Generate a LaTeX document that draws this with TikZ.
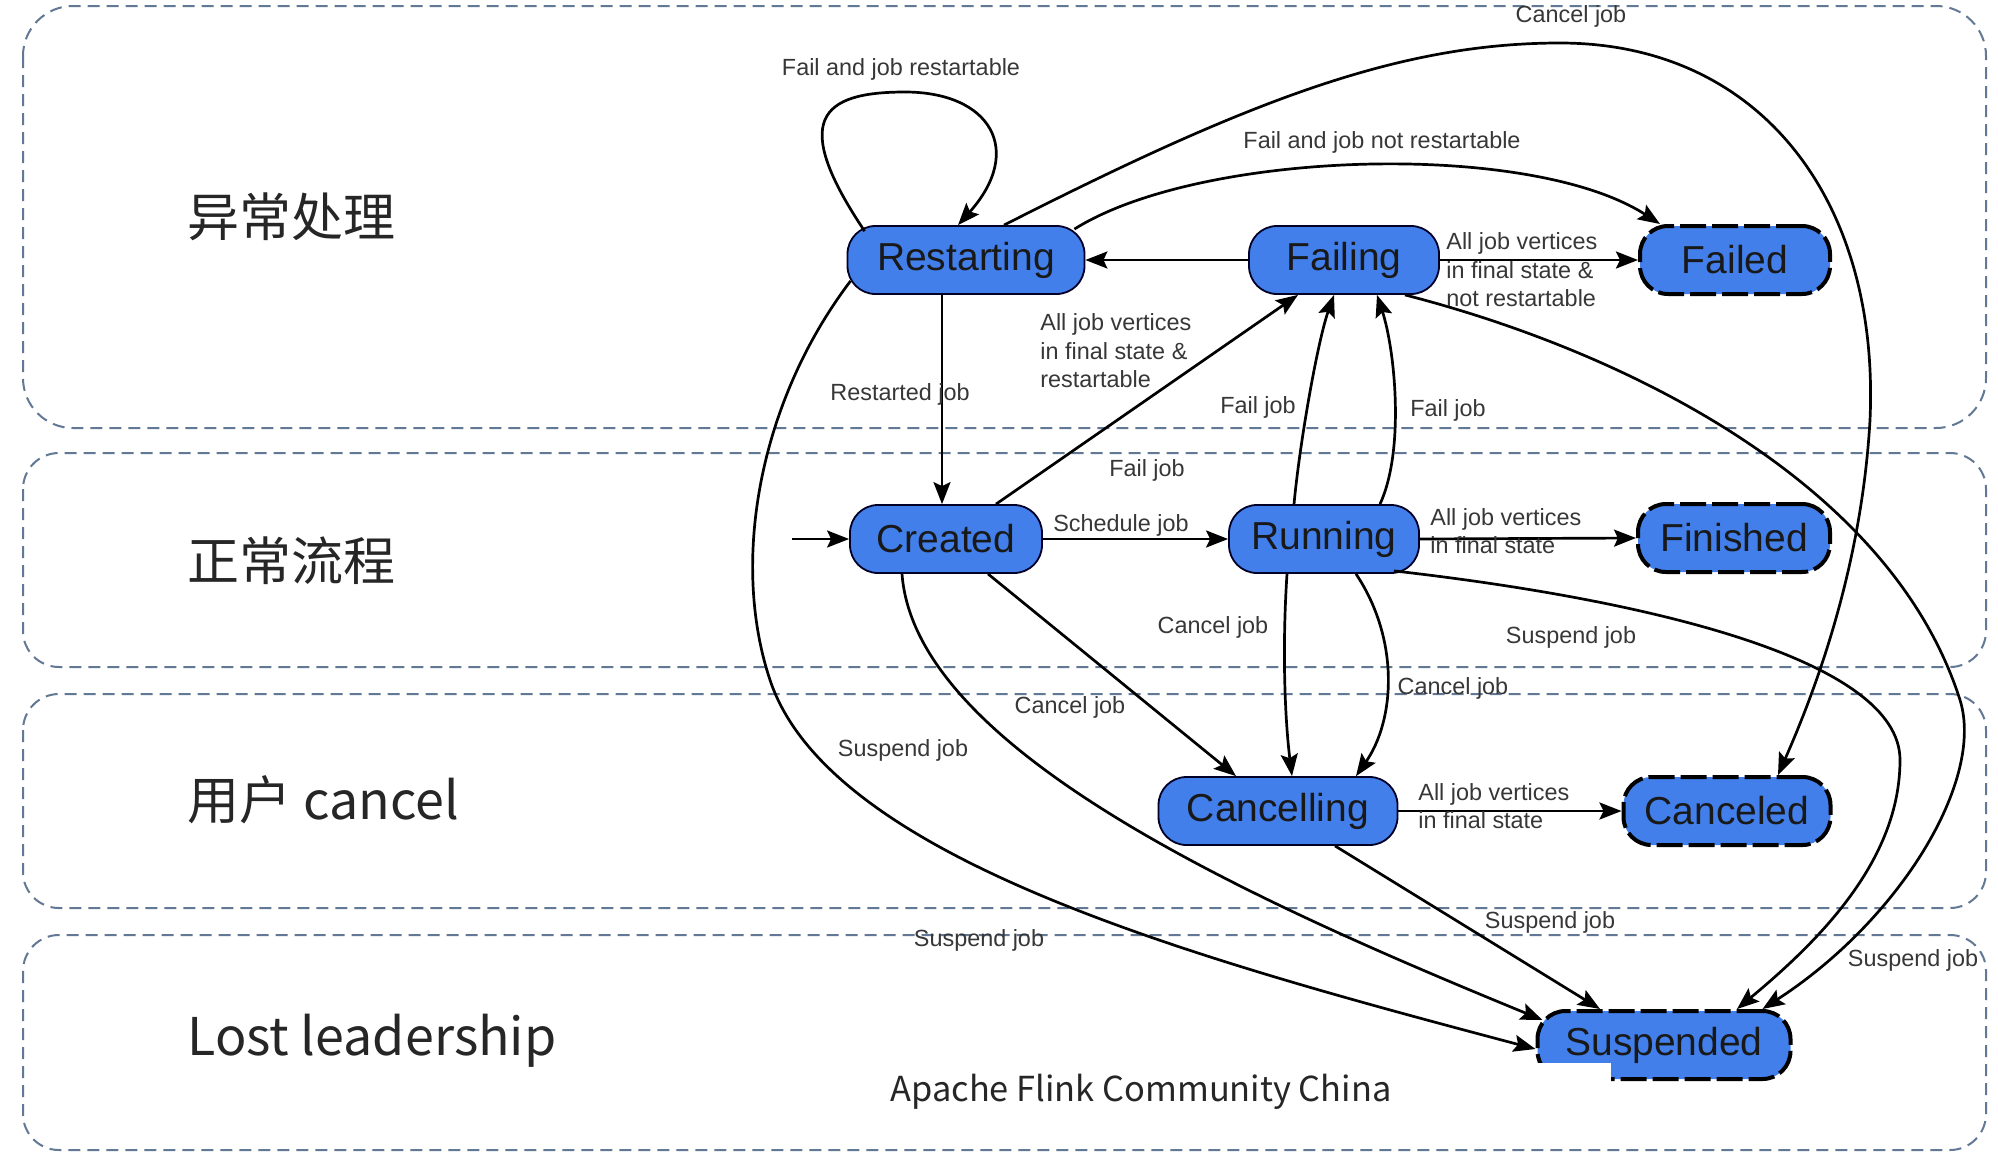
\documentclass[tikz,border=0pt]{standalone}
\usepackage{fontspec}
\setmainfont{Liberation Sans}
\newfontfamily\cjkfont{Noto Sans CJK SC}
\usetikzlibrary{arrows.meta}
\definecolor{stblue}{RGB}{66,127,234}
\definecolor{bandc}{RGB}{98,120,148}
\definecolor{lblc}{RGB}{55,55,55}
\begin{document}
\begin{tikzpicture}[x=0.5pt,y=-0.5pt,
  band/.style={draw=bandc,line width=1pt,dash pattern=on 6pt off 3.5pt},
  st/.style={draw=black!85!blue,line width=0.9pt,fill=stblue,rounded corners=14pt,minimum height=34pt,inner sep=0pt,font=\fontsize{19.5}{22}\selectfont,text=black!90},
  fin/.style={st,draw=black,line width=2pt,dash pattern=on 13pt off 3pt},
  conn/.style={draw=black,line width=1.35pt,-{Stealth[length=11pt,width=8.5pt,inset=2pt]}},
  lbl/.style={font=\fontsize{11.7}{14.2}\selectfont,text=lblc,inner sep=0pt,align=left},
  blbl/.style={font=\cjkfont\fontsize{26}{30}\selectfont,inner sep=0pt,anchor=west,text=black!85}]
\useasboundingbox (0,0) rectangle (1998,1168);
\fill[white] (0,0) rectangle (1998,1168);
% bands
\draw[band,rounded corners=25pt] (23,6) rectangle (1986,428);
\draw[band,rounded corners=18pt] (23,453) rectangle (1986,667);
\draw[band,rounded corners=18pt] (23,694) rectangle (1986,908);
\draw[band,rounded corners=18pt] (23,935) rectangle (1986,1150);
\node[blbl] (b1) at (187,217) {异常处理};
\node[blbl] (b2) at (187,561) {正常流程};
\node[blbl] (b3) at (187,800) {用户 cancel};
\node[blbl] (b4) at (187,1041) {Lost leadership};
\node[font=\cjkfont\fontsize{17.2}{21}\selectfont,text=black!85,inner sep=0pt] (foot) at (1141,1092) {Apache Flink Community China};
% states
\node[st,minimum width=118.5pt] (rs) at (966,260) {Restarting};
\node[st,minimum width=95pt] (fg) at (1344,260) {Failing};
\node[fin,minimum width=95pt] (fd) at (1735,260) {Failed};
\node[st,minimum width=96pt] (cr) at (946,539) {Created};
\node[st,minimum width=95pt] (rn) at (1324,539) {Running};
\node[fin,minimum width=96pt] (fn) at (1734,538) {Finished};
\node[st,minimum width=119.5pt] (cl) at (1278,811) {Cancelling};
\node[fin,minimum width=103.5pt] (cd) at (1727,811) {Canceled};
\node[fin,minimum width=126.5pt] (sp) at (1664,1045) {Suspended};
\fill[white] (1534,1063) rectangle (1611,1086);
% connectors
\coordinate (init) at (792,539);
\draw[conn] (init) -- (cr.west);
\draw[conn] (cr.east) -- (rn.west);
\draw[conn] ([xshift=-12pt]rs.south) -- ([xshift=-2pt]cr.north);
\draw[conn] ([xshift=25pt]cr.north) -- ([xshift=-23pt]fg.south);
\draw[conn] (fg.west) -- (rs.east);
\draw[conn] (fg.east) -- (fd.west);
\draw[conn] ([xshift=-15pt]rn.north) .. controls (1300,440) and (1318,340) .. ([xshift=-5pt]fg.south);
\draw[conn] ([xshift=28pt]rn.north) .. controls (1405,450) and (1395,350) .. ([xshift=16.5pt]fg.south);
\draw[conn] ([xshift=9pt,yshift=-3pt]rs.north west) .. controls (790,120) and (820,92) .. (905,92) .. controls (990,92) and (1025,150) .. ([xshift=-4pt]rs.north);
\draw[conn] ([xshift=-5.5pt,yshift=-2pt]rs.north east) .. controls (1200,150) and (1530,140) .. ([xshift=11pt]fd.north west);
\draw[conn] ([xshift=19pt]rs.north) .. controls (1250,100) and (1400,43) .. (1560,43) .. controls (1760,43) and (1880,200) .. (1870,420) .. controls (1862,560) and (1820,680) .. ([xshift=25.5pt]cd.north);
\draw[conn] ([xshift=-17.5pt]fg.south east) .. controls (1620,350) and (1890,480) .. (1960,700) .. controls (1985,780) and (1900,920) .. ([xshift=-15pt]sp.north east);
\draw[conn] ([xshift=-13pt,yshift=1.5pt]rn.south east) .. controls (1650,600) and (1900,660) .. (1900,760) .. controls (1900,860) and (1820,940) .. ([xshift=36.5pt]sp.north);
\draw[conn] ([xshift=-18.5pt]rn.south) .. controls (1282,650) and (1285,720) .. ([xshift=7pt]cl.north);
\draw[conn] ([xshift=16pt]rn.south) .. controls (1400,640) and (1395,720) .. ([xshift=39pt]cl.north);
\draw[conn] ([xshift=21pt]cr.south) -- ([xshift=-21pt]cl.north);
\draw[conn] (cl.east) -- (cd.west);
\draw[conn] (rn.east) -- (fn.west);
\draw[conn] ([xshift=28.5pt]cl.south) -- ([xshift=-32pt]sp.north);
\draw[conn] ([xshift=-22pt]cr.south) .. controls (915,750) and (1250,900) .. ([xshift=3.5pt,yshift=12.5pt]sp.west);
\draw[conn] ([xshift=2pt,yshift=7pt]rs.south west) .. controls (760,400) and (730,560) .. (770,680) .. controls (830,860) and (1200,960) .. ([yshift=-2pt]sp.west);
% labels
\node[lbl] (lself) at (901,69) {Fail and job restartable};
\node[lbl] (lnr) at (1382,142) {Fail and job not restartable};
\node[lbl] (lcj) at (1571,16) {Cancel job};
\node[lbl,anchor=west] (lfd) at (1446,270) {All job vertices\\in final state \&\\not restartable};
\node[lbl,anchor=west] (lrs) at (1040,351) {All job vertices\\in final state \&\\restartable};
\node[lbl] (lrj) at (900,394) {Restarted job};
\node[lbl] (lf1) at (1258,407) {Fail job};
\node[lbl] (lf2) at (1448,410) {Fail job};
\node[lbl] (lf3) at (1147,470) {Fail job};
\node[lbl] (lsch) at (1121,525) {Schedule job};
\node[lbl,anchor=west] (lfn) at (1430,531) {All job vertices\\in final state};
\node[lbl] (lc1) at (1213,627) {Cancel job};
\node[lbl] (ls1) at (1571,637) {Suspend job};
\node[lbl] (lc2) at (1453,688) {Cancel job};
\node[lbl] (lc3) at (1070,707) {Cancel job};
\node[lbl] (ls2) at (903,750) {Suspend job};
\node[lbl,anchor=west] (lcd) at (1418,806) {All job vertices\\in final state};
\node[lbl] (ls3) at (1550,922) {Suspend job};
\node[lbl] (ls4) at (979,940) {Suspend job};
\node[lbl] (ls5) at (1913,960) {Suspend job};
\end{tikzpicture}
\end{document}
